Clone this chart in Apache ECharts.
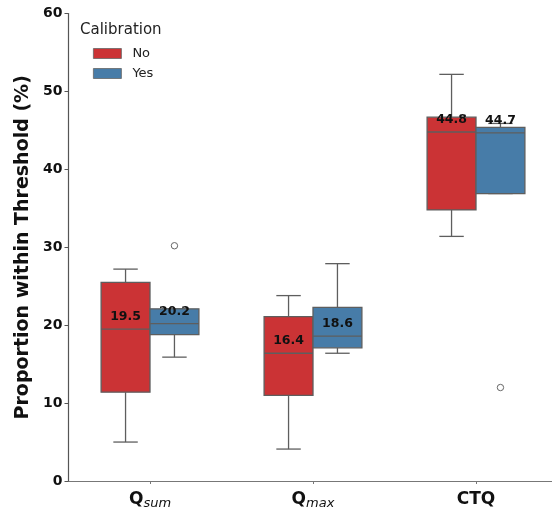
<!DOCTYPE html>
<html lang="en">
<head>
  <meta charset="UTF-8">
  <title>Proportion within Threshold</title>
  <script src="https://cdn.jsdelivr.net/npm/echarts@6/dist/echarts.min.js"></script>
  <style>
    html, body { margin: 0; padding: 0; background: #fff; }
  </style>
</head>
<body>
<div id="chart" style="width: 552px; height: 508px;"></div>

<script>
  // categories: main text + subscript
  var categories = ['Qsum', 'Qmax', 'CTQ'];
  var catMain = ['Q', 'Q', 'CTQ'];
  var catSub = ['sum', 'max', ''];

  var hues = ['No', 'Yes'];
  var hueColors = ['#cb3335', '#477ca8'];

  // box stats per category: [min, q1, median, q3, max]
  var noStats = [
    [5.0, 11.4, 19.5, 25.5, 27.2],
    [4.1, 11.0, 16.4, 21.1, 23.8],
    [31.4, 34.8, 44.8, 46.7, 52.2]
  ];
  var yesStats = [
    [15.9, 18.8, 20.2, 22.1, 22.1],
    [16.4, 17.1, 18.6, 22.3, 27.9],
    [36.9, 36.9, 44.7, 45.4, 45.9]
  ];

  // outliers: [category index, value, hue index]
  var outliers = [
    [0, 30.2, 1],
    [2, 12.0, 1]
  ];

  var yTicks = [0, 10, 20, 30, 40, 50, 60];

  var lineColor = '#5e5e5e';
  var font = 'DejaVu Sans';

  function boxData(stats) {
    return stats.map(function (s, i) { return [i].concat(s); });
  }

  // box centre and width for a hue inside a category band
  function boxGeom(api, hueIdx, cat) {
    var band = api.size([1, 0])[0];
    var w = band * 0.3;
    var cx = api.coord([cat, 0])[0] + (hueIdx === 0 ? -w / 2 : w / 2);
    return { w: w, cx: cx };
  }

  function makeBoxRender(hueIdx) {
    return function (params, api) {
      var cat = api.value(0);
      var g = boxGeom(api, hueIdx, cat);
      var yMin = api.coord([cat, api.value(1)])[1];
      var yQ1 = api.coord([cat, api.value(2)])[1];
      var yMed = api.coord([cat, api.value(3)])[1];
      var yQ3 = api.coord([cat, api.value(4)])[1];
      var yMax = api.coord([cat, api.value(5)])[1];
      var x0 = g.cx - g.w / 2, x1 = g.cx + g.w / 2;
      var capHalf = g.w / 4;
      var ls = { stroke: lineColor, lineWidth: 1.3 };
      return {
        type: 'group',
        children: [
          { type: 'line', shape: { x1: g.cx, y1: yQ3, x2: g.cx, y2: yMax }, style: ls },
          { type: 'line', shape: { x1: g.cx, y1: yQ1, x2: g.cx, y2: yMin }, style: ls },
          { type: 'line', shape: { x1: g.cx - capHalf, y1: yMax, x2: g.cx + capHalf, y2: yMax }, style: ls },
          { type: 'line', shape: { x1: g.cx - capHalf, y1: yMin, x2: g.cx + capHalf, y2: yMin }, style: ls },
          {
            type: 'rect',
            shape: { x: x0, y: yQ3, width: g.w, height: yQ1 - yQ3 },
            style: { fill: hueColors[hueIdx], stroke: lineColor, lineWidth: 1.3 }
          },
          { type: 'line', shape: { x1: x0, y1: yMed, x2: x1, y2: yMed }, style: ls },
          {
            type: 'text',
            x: g.cx, y: yMed - 12,
            style: {
              text: api.value(3).toFixed(1),
              fill: '#111',
              font: 'bold 12.5px "DejaVu Sans"',
              align: 'center',
              verticalAlign: 'middle'
            }
          }
        ]
      };
    };
  }

  var chart = echarts.init(document.getElementById('chart'));

  var option = {
    animation: false,
    backgroundColor: '#fff',
    title: {
      text: 'Calibration',
      left: 80,
      top: 23,
      padding: 0,
      textStyle: { fontFamily: font, fontSize: 15, fontWeight: 'normal', color: '#222' }
    },
    legend: {
      data: hues,
      orient: 'vertical',
      left: 93,
      top: 46,
      padding: 0,
      itemWidth: 28,
      itemHeight: 10,
      itemGap: 5,
      icon: 'rect',
      itemStyle: { borderColor: '#666', borderWidth: 0.8 },
      textStyle: { fontFamily: font, fontSize: 13, color: '#222', padding: [0, 0, 0, 6], lineHeight: 15 }
    },
    grid: { left: 68.5, width: 489, top: 13.6, bottom: 27, outerBoundsMode: 'none' },
    xAxis: {
      type: 'category',
      data: categories,
      axisLine: { lineStyle: { color: '#777', width: 1.2 } },
      axisTick: { show: true, alignWithLabel: true, length: 3, lineStyle: { color: '#777' } },
      axisLabel: {
        margin: 8,
        formatter: function (v, i) {
          return '{b|' + catMain[i] + '}' + (catSub[i] ? '{s|' + catSub[i] + '}' : '');
        },
        rich: {
          b: { fontFamily: font, fontSize: 17, fontWeight: 'bold', color: '#111', lineHeight: 22 },
          s: { fontFamily: font, fontSize: 13, fontStyle: 'italic', color: '#111', lineHeight: 22, padding: [8, 0, 0, 0] }
        }
      }
    },
    yAxis: {
      type: 'value',
      min: yTicks[0],
      max: yTicks[yTicks.length - 1],
      interval: 10,
      name: 'Proportion within Threshold (%)',
      nameLocation: 'middle',
      nameGap: 34,
      nameTextStyle: { fontFamily: font, fontSize: 19, fontWeight: 'bold', color: '#111' },
      axisLine: { show: true, lineStyle: { color: '#555', width: 1.2 } },
      axisTick: { show: true, length: 4, lineStyle: { color: '#555' } },
      axisLabel: { fontFamily: font, fontSize: 14, fontWeight: 'bold', color: '#111', margin: 6 },
      splitLine: { show: false }
    },
    series: [
      {
        name: hues[0],
        type: 'custom',
        itemStyle: { color: hueColors[0] },
        encode: { x: 0, y: [1, 2, 3, 4, 5] },
        renderItem: makeBoxRender(0),
        data: boxData(noStats)
      },
      {
        name: hues[1],
        type: 'custom',
        itemStyle: { color: hueColors[1] },
        encode: { x: 0, y: [1, 2, 3, 4, 5] },
        renderItem: makeBoxRender(1),
        data: boxData(yesStats)
      },
      {
        name: 'outliers',
        type: 'custom',
        encode: { x: 0, y: 1 },
        renderItem: function (params, api) {
          var cat = api.value(0);
          var g = boxGeom(api, api.value(2), cat);
          var y = api.coord([cat, api.value(1)])[1];
          return {
            type: 'circle',
            shape: { cx: g.cx, cy: y, r: 3.2 },
            style: { fill: 'none', stroke: '#666', lineWidth: 1 }
          };
        },
        data: outliers
      }
    ]
  };

  chart.setOption(option);
</script>
</body>
</html>
